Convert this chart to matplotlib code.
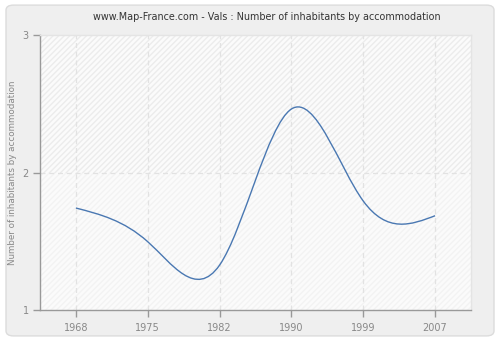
import numpy as np
import matplotlib
matplotlib.use("Agg")
import matplotlib.pyplot as plt
from matplotlib.path import Path
from matplotlib.patches import PathPatch, FancyBboxPatch

years = ["1968", "1975", "1982", "1990", "1999", "2007"]
values = [1.742, 1.497, 1.327, 2.462, 1.793, 1.686]
y_ticks = [1, 2, 3]

title = "www.Map-France.com - Vals : Number of inhabitants by accommodation"
ylabel = "Number of inhabitants by accommodation"


# natural cubic spline -> bezier path (drawn by matplotlib)
def spline_path(y):
    y = np.asarray(y, dtype=float)
    n = len(y)
    A = np.zeros((n, n))
    d = np.zeros(n)
    A[0, 0] = A[-1, -1] = 1
    for i in range(1, n - 1):
        A[i, i - 1], A[i, i], A[i, i + 1] = 1, 4, 1
        d[i] = 6 * (y[i + 1] - 2 * y[i] + y[i - 1])
    M = np.linalg.solve(A, d)
    verts = [(0, y[0])]
    codes = [Path.MOVETO]
    for i in range(n - 1):
        dy = y[i + 1] - y[i]
        s0 = dy - (2 * M[i] + M[i + 1]) / 6
        s1 = dy + (M[i] + 2 * M[i + 1]) / 6
        verts += [(i + 1 / 3, y[i] + s0 / 3),
                  (i + 2 / 3, y[i + 1] - s1 / 3),
                  (i + 1, y[i + 1])]
        codes += [Path.CURVE4] * 3
    return Path(verts, codes)


fig = plt.figure(figsize=(5, 3.4), dpi=100)
fig.patch.set_facecolor("white")
fig.patches.append(FancyBboxPatch((0.012, 0.012), 0.976, 0.973,
                                  boxstyle="round,pad=0,rounding_size=0.015",
                                  transform=fig.transFigure, facecolor="#efefef",
                                  edgecolor="#dcdcdc", linewidth=1, zorder=-5))

ax = fig.add_axes([0.08, 0.088, 0.862, 0.809])
ax.set_facecolor("#fbfbfb")
ax.set_xlim(-0.5, len(years) - 0.5)
ax.set_ylim(1, 3)

# hatched background bands
ax.axhspan(2, 3, facecolor="none", edgecolor="#ececec", hatch="//////", linewidth=0)
ax.axhspan(1, 2, facecolor="none", edgecolor="#f3f3f3", hatch="//////", linewidth=0)

for i in range(len(years)):
    ax.axvline(i, color="#e2e2e2", linestyle=(0, (4, 3)), linewidth=0.9, zorder=1)
ax.axhline(2, color="#e2e2e2", linestyle=(0, (4, 3)), linewidth=0.9, zorder=1)

ax.add_patch(PathPatch(spline_path(values), facecolor="none",
                       edgecolor="#4a78b2", linewidth=1.0, zorder=3))

ax.set_xticks(range(len(years)))
ax.set_xticklabels(years)
ax.set_yticks(y_ticks)
ax.tick_params(colors="#999999", labelcolor="#888888", labelsize=7,
               length=5, width=1)
ax.tick_params(axis="x", pad=4)
ax.tick_params(axis="y", pad=3)

for s in ["left", "bottom"]:
    ax.spines[s].set_color("#999999")
    ax.spines[s].set_linewidth(1)
for s in ["top", "right"]:
    ax.spines[s].set_color("#e4e4e4")
    ax.spines[s].set_linewidth(1)

ax.set_ylabel(ylabel, color="#888888", fontsize=6.3, labelpad=4)
fig.text(0.534, 0.95, title, ha="center", va="center", fontsize=6.9, color="#333333")

fig.savefig("out.png", dpi=100)
